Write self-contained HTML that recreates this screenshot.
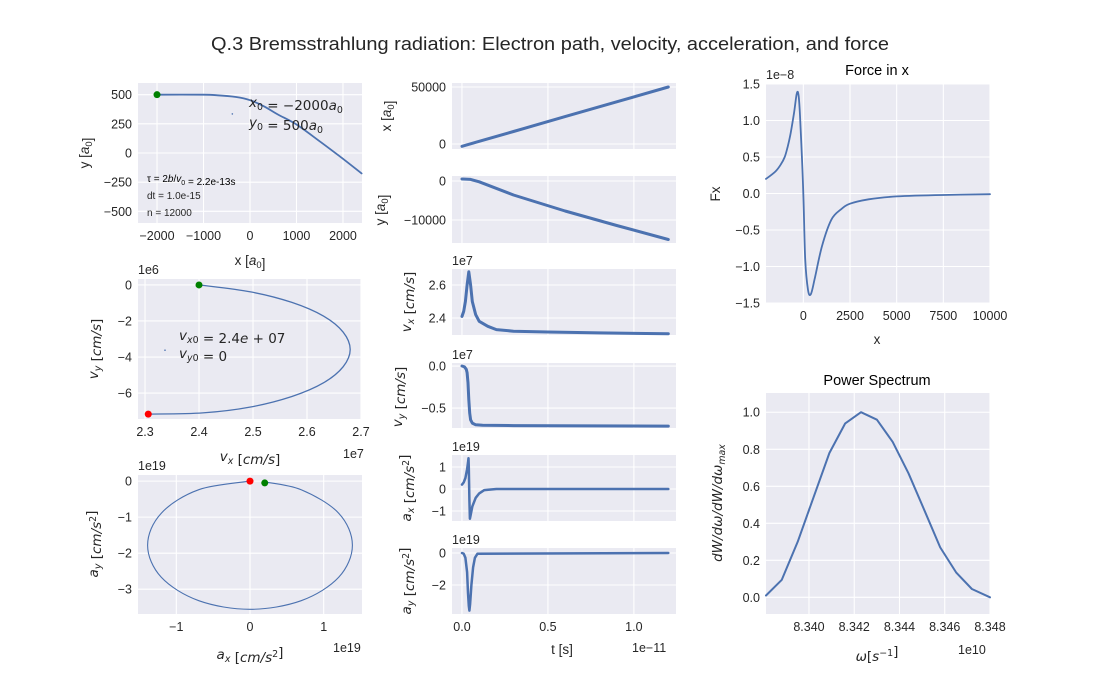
<!DOCTYPE html>
<html><head><meta charset="utf-8">
<style>
html,body{margin:0;padding:0;background:#fff;}
svg{display:block;font-family:"Liberation Sans","DejaVu Sans",sans-serif;}
.tk{font-size:12.5px;fill:#262626;}
.lb{font-size:13.5px;fill:#262626;}
.mt{font-family:"DejaVu Sans","Liberation Sans",sans-serif;}
</style></head>
<body>
<svg id="fig" width="1100" height="691" viewBox="0 0 1100 691" xmlns="http://www.w3.org/2000/svg">
<text x="550" y="50" text-anchor="middle" font-size="18.5" fill="#262626" textLength="678" lengthAdjust="spacingAndGlyphs">Q.3 Bremsstrahlung radiation: Electron path, velocity, acceleration, and force</text>
</svg>
<script>
// ---------- data ----------
const pathX = [-2000,-1000,-700,-300,0,300,600,1000,1500,2000,2400];
const pathY = [500,500,495,480,453,400,330,244,100,-50,-175];
const velX = [2.400,2.4955,2.572,2.631,2.667,2.680,2.667,2.631,2.572,2.4955,2.407,2.306];
const velY = [0,-0.384,-0.971,-1.735,-2.624,-3.58,-4.536,-5.425,-6.189,-6.776,-7.10,-7.17];
const accX = [0.19,0.695,1.204,1.39,1.204,0.695,0,-0.695,-1.204,-1.39,-1.204,-0.695,0];
const accY = [-0.018,-0.238,-0.89,-1.78,-2.67,-3.32,-3.56,-3.32,-2.67,-1.78,-0.89,-0.238,0];
const tPos = [0,0.05,0.1,0.3,0.6,0.9,1.2];
const xPos = [-2000,200,2400,11000,24000,37000,50000];
const yPos = [500,400,-200,-3600,-7700,-11400,-15000];
const tVx = [0,0.01,0.02,0.03,0.04,0.05,0.06,0.08,0.1,0.15,0.2,0.3,0.5,0.8,1.2];
const vxT = [2.41,2.44,2.5,2.6,2.68,2.6,2.5,2.42,2.38,2.35,2.33,2.32,2.315,2.31,2.305];
const tVy = [0,0.015,0.025,0.03,0.035,0.04,0.045,0.05,0.06,0.08,0.12,0.3,1.2];
const vyT = [0,-0.01,-0.04,-0.08,-0.2,-0.4,-0.56,-0.64,-0.68,-0.70,-0.705,-0.71,-0.715];
const tAx = [0,0.01,0.02,0.03,0.035,0.038,0.04,0.043,0.046,0.05,0.06,0.08,0.1,0.13,0.2,1.2];
const axT = [0.2,0.3,0.5,0.9,1.2,1.4,1.0,-0.5,-1.35,-1.2,-0.8,-0.4,-0.2,-0.05,0,0];
const tAy = [0,0.01,0.02,0.03,0.035,0.04,0.043,0.047,0.055,0.065,0.075,0.09,1.2];
const ayT = [0,-0.05,-0.3,-1.2,-2.5,-3.3,-3.6,-3.2,-2.0,-0.9,-0.3,-0.05,0];
const forceX = [-2000,-1500,-1200,-1000,-850,-700,-500,-350,-250,-150,0,100,250,400,600,1000,1500,2000,2500,3500,5000,7500,10000];
const forceY = [0.2,0.3,0.4,0.5,0.63,0.8,1.1,1.37,1.33,0.92,0,-0.9,-1.32,-1.38,-1.18,-0.72,-0.36,-0.22,-0.14,-0.08,-0.04,-0.02,-0.01];
const omega = [8.3381,8.3388,8.3395,8.3402,8.3409,8.3416,8.3423,8.3430,8.3437,8.3444,8.3451,8.3458,8.3465,8.3472,8.3480];
const power = [0.01,0.095,0.30,0.54,0.78,0.94,1.0,0.96,0.84,0.67,0.47,0.27,0.135,0.045,0.0];
const tTicks = [0,0.5,1.0];
const tTickLabels = ['0.0','0.5','1.0'];

const NS='http://www.w3.org/2000/svg';
const svg=document.getElementById('fig');
function el(tag,attrs,parent){const e=document.createElementNS(NS,tag);for(const k in attrs)e.setAttribute(k,attrs[k]);(parent||svg).appendChild(e);return e;}
function scale(d0,d1,p0,p1){return v=>p0+(v-d0)/(d1-d0)*(p1-p0);}

function makeAxes(name,b){
  const g=el('g',{});
  
  
  const sx=scale(b.xd[0],b.xd[1],b.x0,b.x1), sy=scale(b.yd[0],b.yd[1],b.y1,b.y0);
  const bg=el('rect',{x:b.x0,y:b.y0,width:b.x1-b.x0,height:b.y1-b.y0,fill:'#EAEAF2'},g);
  
  
  (b.xt||[]).forEach((v,i)=>{
    const x=sx(v);
    const gl=el('line',{x1:x,x2:x,y1:b.y0,y2:b.y1,stroke:'#fff','stroke-width':1.1},g);
    
    
    if(b.xl){const t=el('text',{x:x,y:b.y1+17,'text-anchor':'middle',class:'tk'},g);t.textContent=b.xl[i];
      
      }
  });
  (b.yt||[]).forEach((v,i)=>{
    const y=sy(v);
    const gl=el('line',{x1:b.x0,x2:b.x1,y1:y,y2:y,stroke:'#fff','stroke-width':1.1},g);
    
    
    const t=el('text',{x:b.x0-6,y:y+4.5,'text-anchor':'end',class:'tk'},g);t.textContent=b.yl[i];
    
    
  });
  return {g,sx,sy};
}
function line(ax,name,xs,ys,w,smooth){
  const P=xs.map((v,i)=>[ax.sx(v),ax.sy(ys[i])]);
  let d='M'+P[0][0].toFixed(1)+','+P[0][1].toFixed(1);
  for(let i=1;i<P.length;i++){
    if(smooth){
      const p0=P[i-2]||P[i-1],p1=P[i-1],p2=P[i],p3=P[i+1]||P[i];
      const c1=[p1[0]+(p2[0]-p0[0])/6,p1[1]+(p2[1]-p0[1])/6];
      const c2=[p2[0]-(p3[0]-p1[0])/6,p2[1]-(p3[1]-p1[1])/6];
      d+='C'+c1[0].toFixed(1)+','+c1[1].toFixed(1)+' '+c2[0].toFixed(1)+','+c2[1].toFixed(1)+' '+p2[0].toFixed(1)+','+p2[1].toFixed(1);
    } else d+='L'+P[i][0].toFixed(1)+','+P[i][1].toFixed(1);
  }
  const p=el('path',{d:d,fill:'none',stroke:'#4C72B0','stroke-width':w,'stroke-linejoin':'round','stroke-linecap':'round'},ax.g);
  
  
  return p;
}
function dot(ax,name,x,y,c,r){
  const d=el('circle',{cx:ax.sx(x),cy:ax.sy(y),r:r||3.5,fill:c},ax.g);
  
  
}
function txt(name,x,y,html,attrs){
  const t=el('text',Object.assign({x:x,y:y,class:'lb'},attrs||{}));
  t.innerHTML=html;
  
  
  return t;
}
function sub(s){return '<tspan font-size="70%" dy="3">'+s+'</tspan><tspan dy="-3"></tspan>';}
function sup(s){return '<tspan font-size="70%" dy="-5">'+s+'</tspan><tspan dy="5"></tspan>';}

// ---------- left column ----------
const a1=makeAxes('path-plot',{x0:138,x1:362,y0:83,y1:223,xd:[-2409,2409],yd:[-600,600],
  xt:[-2000,-1000,0,1000,2000],xl:['\u22122000','\u22121000','0','1000','2000'],
  yt:[500,250,0,-250,-500],yl:['500','250','0','\u2212250','\u2212500']});
line(a1,'electron-path-line',pathX,pathY,1.8,true);
dot(a1,'path-start-marker',-2000,500,'#008000',3.5);
dot(a1,'path-legend-dot',-380,335,'#4C72B0',0.8);
txt('path-legend-x0',249,107,'<tspan font-style="italic">x</tspan>'+sub('0')+' = \u22122000<tspan font-style="italic">a</tspan>'+sub('0'),{class:'lb mt'});
txt('path-legend-y0',249,127,'<tspan font-style="italic">y</tspan>'+sub('0')+' = 500<tspan font-style="italic">a</tspan>'+sub('0'),{class:'lb mt'});
txt('tau-annotation',147,182,'\u03c4 = 2<tspan font-style="italic">b</tspan>/<tspan font-style="italic">v</tspan>'+sub('0')+' = 2.2e-13s',{'font-size':'10px',class:''});
txt('dt-annotation',147,199,'dt = 1.0e-15',{'font-size':'10px',class:'',fill:'#262626'});
txt('n-annotation',147,216,'n = 12000',{'font-size':'10px',class:'',fill:'#262626'});
txt('path-x-label',250,265,'x [<tspan font-style="italic">a</tspan>'+sub('0')+']',{'text-anchor':'middle'});
txt('path-y-label',0,0,'y [<tspan font-style="italic">a</tspan>'+sub('0')+']',{'text-anchor':'middle',transform:'translate(89,153) rotate(-90)'});

const a2=makeAxes('velocity-plot',{x0:138,x1:361,y0:279,y1:419,xd:[2.287,2.7],yd:[-7.44,0.33],
  xt:[2.3,2.4,2.5,2.6,2.7],xl:['2.3','2.4','2.5','2.6','2.7'],
  yt:[0,-2,-4,-6],yl:['0','\u22122','\u22124','\u22126']});
line(a2,'velocity-curve',velX,velY,1.3,true);
dot(a2,'velocity-start-marker',2.4,0,'#008000',3.5);
dot(a2,'velocity-end-marker',2.306,-7.17,'#ff0000',3.5);
dot(a2,'velocity-legend-dot',2.337,-3.62,'#4C72B0',0.8);
txt('velocity-offset',138,274,'1e6',{class:'tk'});
txt('velocity-legend-vx0',179,340,'<tspan font-style="italic">v</tspan>'+sub('<tspan font-style="italic">x</tspan>0')+' = 2.4<tspan font-style="italic">e</tspan> + 07',{class:'lb mt'});
txt('velocity-legend-vy0',179,358,'<tspan font-style="italic">v</tspan>'+sub('<tspan font-style="italic">y</tspan>0')+' = 0',{class:'lb mt'});
txt('velocity-x-label',250,461,'<tspan font-style="italic">v</tspan>'+sub('<tspan font-style="italic">x</tspan>')+' [<tspan font-style="italic">cm/s</tspan>]',{'text-anchor':'middle',class:'lb mt'});
txt('velocity-x-offset',343,458,'1e7',{class:'tk'});
txt('velocity-y-label',0,0,'<tspan font-style="italic">v</tspan>'+sub('<tspan font-style="italic">y</tspan>')+' [<tspan font-style="italic">cm/s</tspan>]',{'text-anchor':'middle',transform:'translate(98,349) rotate(-90)',class:'lb mt'});

const a3=makeAxes('acceleration-plot',{x0:138,x1:362,y0:475,y1:614,xd:[-1.52,1.52],yd:[-3.69,0.17],
  xt:[-1,0,1],xl:['\u22121','0','1'],
  yt:[0,-1,-2,-3],yl:['0','\u22121','\u22122','\u22123']});
line(a3,'acceleration-curve',accX,accY,1.1,true);
dot(a3,'acceleration-start-marker',0.2,-0.05,'#008000',3.5);
dot(a3,'acceleration-end-marker',0,0,'#ff0000',3.5);
txt('acceleration-offset',138,470,'1e19',{class:'tk'});
txt('acceleration-x-label',250,659,'<tspan font-style="italic">a</tspan>'+sub('<tspan font-style="italic">x</tspan>')+' [<tspan font-style="italic">cm/s</tspan>'+sup('2')+']',{'text-anchor':'middle',class:'lb mt'});
txt('acceleration-x-offset',333,652,'1e19',{class:'tk'});
txt('acceleration-y-label',0,0,'<tspan font-style="italic">a</tspan>'+sub('<tspan font-style="italic">y</tspan>')+' [<tspan font-style="italic">cm/s</tspan>'+sup('2')+']',{'text-anchor':'middle',transform:'translate(98,544) rotate(-90)',class:'lb mt'});

// ---------- middle column ----------
const TD=[-0.058,1.245];
const m1=makeAxes('x-vs-t-plot',{x0:452,x1:676,y0:83,y1:149,xd:TD,yd:[-4386,53500],xt:tTicks,yt:[0,50000],yl:['0','50000']});
line(m1,'x-vs-t-line',tPos,xPos,3);
txt('x-vs-t-y-label',0,0,'x [<tspan font-style="italic">a</tspan>'+sub('0')+']',{'text-anchor':'middle',transform:'translate(391,116) rotate(-90)'});
const m2=makeAxes('y-vs-t-plot',{x0:452,x1:676,y0:176,y1:243,xd:TD,yd:[-15897,1282],xt:tTicks,yt:[0,-10000],yl:['0','\u221210000']});
line(m2,'y-vs-t-line',tPos,yPos,3);
txt('y-vs-t-y-label',0,0,'y [<tspan font-style="italic">a</tspan>'+sub('0')+']',{'text-anchor':'middle',transform:'translate(385,210) rotate(-90)'});
const m3=makeAxes('vx-vs-t-plot',{x0:452,x1:676,y0:269,y1:335,xd:TD,yd:[2.297,2.697],xt:tTicks,yt:[2.6,2.4],yl:['2.6','2.4']});
line(m3,'vx-vs-t-line',tVx,vxT,3);
txt('vx-vs-t-offset',452,265,'1e7',{class:'tk'});
txt('vx-vs-t-y-label',0,0,'<tspan font-style="italic">v</tspan>'+sub('<tspan font-style="italic">x</tspan>')+' [<tspan font-style="italic">cm/s</tspan>]',{'text-anchor':'middle',transform:'translate(411,302) rotate(-90)',class:'lb mt'});
const m4=makeAxes('vy-vs-t-plot',{x0:452,x1:676,y0:363,y1:428,xd:TD,yd:[-0.738,0.036],xt:tTicks,yt:[0,-0.5],yl:['0.0','\u22120.5']});
line(m4,'vy-vs-t-line',tVy,vyT,3);
txt('vy-vs-t-offset',452,359,'1e7',{class:'tk'});
txt('vy-vs-t-y-label',0,0,'<tspan font-style="italic">v</tspan>'+sub('<tspan font-style="italic">y</tspan>')+' [<tspan font-style="italic">cm/s</tspan>]',{'text-anchor':'middle',transform:'translate(402,397) rotate(-90)',class:'lb mt'});
const m5=makeAxes('ax-vs-t-plot',{x0:452,x1:676,y0:455,y1:521,xd:TD,yd:[-1.455,1.545],xt:tTicks,yt:[1,0,-1],yl:['1','0','\u22121']});
line(m5,'ax-vs-t-line',tAx,axT,2.5);
txt('ax-vs-t-offset',452,451,'1e19',{class:'tk'});
txt('ax-vs-t-y-label',0,0,'<tspan font-style="italic">a</tspan>'+sub('<tspan font-style="italic">x</tspan>')+' [<tspan font-style="italic">cm/s</tspan>'+sup('2')+']',{'text-anchor':'middle',transform:'translate(411,488) rotate(-90)',class:'lb mt'});
const m6=makeAxes('ay-vs-t-plot',{x0:452,x1:676,y0:548,y1:614,xd:TD,yd:[-3.8125,0.3125],xt:tTicks,xl:tTickLabels,yt:[0,-2],yl:['0','\u22122']});
line(m6,'ay-vs-t-line',tAy,ayT,2.5);
txt('ay-vs-t-offset',452,544,'1e19',{class:'tk'});
txt('ay-vs-t-y-label',0,0,'<tspan font-style="italic">a</tspan>'+sub('<tspan font-style="italic">y</tspan>')+' [<tspan font-style="italic">cm/s</tspan>'+sup('2')+']',{'text-anchor':'middle',transform:'translate(411,581) rotate(-90)',class:'lb mt'});
txt('time-x-label',562,654,'t [s]',{'text-anchor':'middle'});
txt('time-x-offset',632,652,'1e\u221211',{class:'tk'});

// ---------- right column ----------
const r1=makeAxes('force-plot',{x0:766,x1:990,y0:84,y1:303,xd:[-2000,10000],yd:[-1.5,1.5],
  xt:[0,2500,5000,7500,10000],xl:['0','2500','5000','7500','10000'],
  yt:[1.5,1.0,0.5,0,-0.5,-1.0,-1.5],yl:['1.5','1.0','0.5','0.0','\u22120.5','\u22121.0','\u22121.5']});
line(r1,'force-x-line',forceX,forceY,1.8,true);
txt('force-title',877,75,'Force in x',{'text-anchor':'middle','font-size':'14.5px',class:''});
txt('force-y-offset',766,79,'1e\u22128',{class:'tk'});
txt('force-x-label',877,344,'x',{'text-anchor':'middle'});
txt('force-y-label',0,0,'Fx',{'text-anchor':'middle',transform:'translate(720,194) rotate(-90)'});

const r2=makeAxes('power-spectrum-plot',{x0:766,x1:990,y0:393,y1:614,xd:[8.3381,8.348],yd:[-0.09,1.104],
  xt:[8.340,8.342,8.344,8.346,8.348],xl:['8.340','8.342','8.344','8.346','8.348'],
  yt:[1.0,0.8,0.6,0.4,0.2,0.0],yl:['1.0','0.8','0.6','0.4','0.2','0.0']});
line(r2,'power-spectrum-line',omega,power,2);
txt('power-title',877,385,'Power Spectrum',{'text-anchor':'middle','font-size':'14.5px',class:''});
txt('power-x-label',877,661,'<tspan font-style="italic">\u03c9</tspan>[<tspan font-style="italic">s</tspan>'+sup('\u22121')+']',{'text-anchor':'middle',class:'lb mt'});
txt('power-x-offset',958,654,'1e10',{class:'tk'});
txt('power-y-label',0,0,'<tspan font-style="italic">dW/d\u03c9/dW/d\u03c9</tspan>'+sub('<tspan font-style="italic">max</tspan>'),{'text-anchor':'middle',transform:'translate(722,503) rotate(-90)',class:'lb mt'});
</script>
</body></html>
